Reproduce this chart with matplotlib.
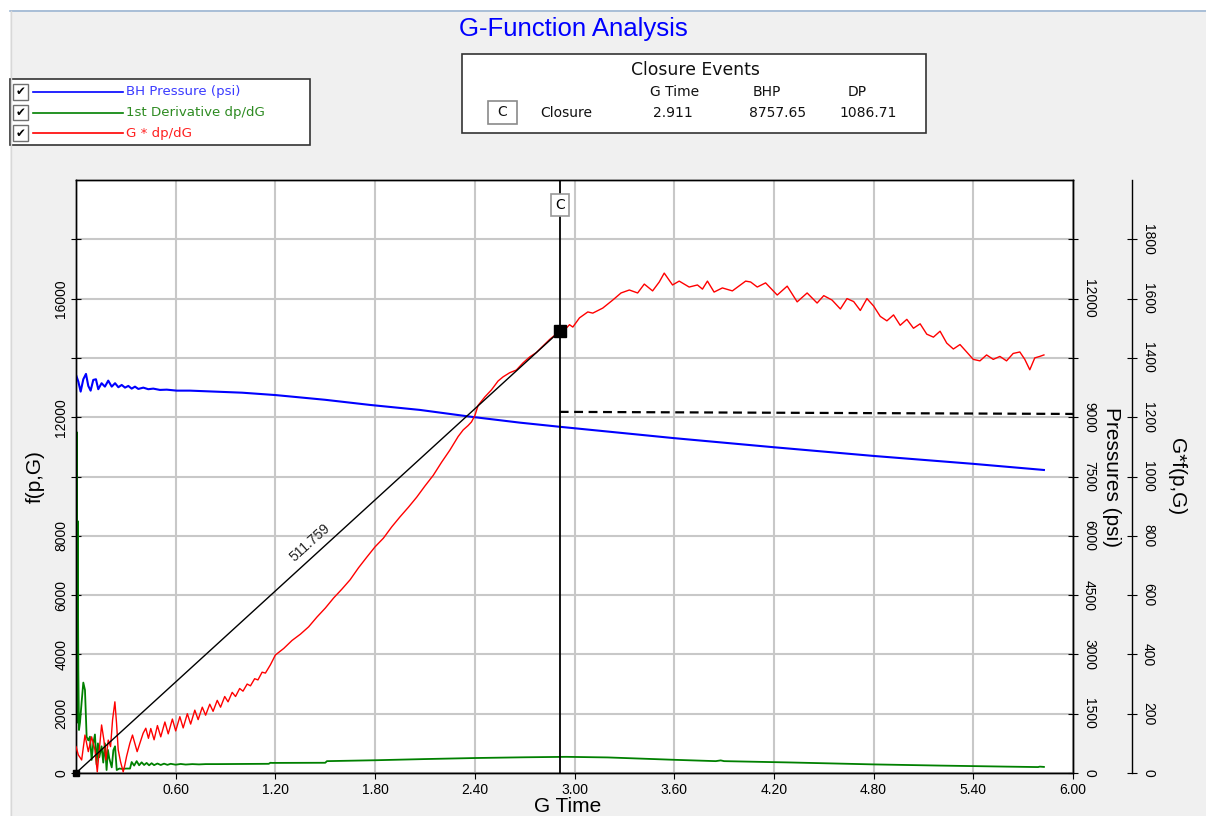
import matplotlib
matplotlib.use('Agg')
import matplotlib.pyplot as plt
from matplotlib.patches import Rectangle
from matplotlib.lines import Line2D

plt.rcParams['font.family'] = ['Liberation Sans', 'DejaVu Sans']

# ---------------- data ----------------
# G * dp/dG  (right outer axis, G*f(p,G))
red_pts = [
    (0.000, 89), (0.014, 61), (0.034, 44), (0.054, 128), (0.074, 72), (0.094, 122),
    (0.114, 78), (0.128, 4), (0.140, 78), (0.154, 162), (0.168, 111), (0.180, 44),
    (0.194, 111), (0.208, 89), (0.220, 179), (0.234, 240), (0.244, 168), (0.254, 78),
    (0.268, 38), (0.284, 4), (0.294, 27), (0.304, 55), (0.324, 100), (0.340, 128),
    (0.354, 100), (0.368, 72), (0.384, 100), (0.404, 134), (0.420, 151), (0.436, 117),
    (0.450, 150), (0.470, 112), (0.490, 160), (0.510, 122), (0.535, 172), (0.555, 132),
    (0.580, 182), (0.600, 142), (0.625, 190), (0.645, 152), (0.670, 200), (0.690, 165),
    (0.715, 212), (0.735, 180), (0.760, 222), (0.780, 195), (0.805, 232), (0.825, 208),
    (0.850, 245), (0.870, 222), (0.895, 258), (0.915, 240), (0.940, 272), (0.960, 258),
    (0.985, 285), (1.005, 276), (1.030, 300), (1.050, 294), (1.075, 318), (1.095, 314),
    (1.120, 340), (1.140, 337), (1.170, 365), (1.200, 398),
    (1.25, 420), (1.30, 447), (1.35, 468), (1.40, 493), (1.45, 526), (1.50, 556),
    (1.55, 590), (1.60, 620), (1.65, 652), (1.70, 692), (1.75, 728), (1.80, 763),
    (1.85, 792), (1.90, 830), (1.95, 864), (2.00, 896), (2.05, 930), (2.10, 968),
    (2.15, 1004), (2.20, 1048), (2.25, 1089), (2.30, 1135), (2.33, 1157), (2.36, 1172),
    (2.38, 1184), (2.40, 1205), (2.42, 1240), (2.46, 1268), (2.50, 1292), (2.54, 1322),
    (2.57, 1336), (2.61, 1350), (2.65, 1359), (2.69, 1383), (2.73, 1403), (2.77, 1418),
    (2.81, 1440), (2.85, 1462), (2.88, 1476), (2.911, 1490),
    (2.95, 1500), (2.97, 1512), (2.99, 1504), (3.03, 1535), (3.08, 1555), (3.11, 1551),
    (3.17, 1568), (3.23, 1595), (3.28, 1619), (3.33, 1629), (3.38, 1619), (3.42, 1649),
    (3.47, 1626), (3.51, 1656), (3.54, 1686), (3.59, 1646), (3.63, 1659), (3.69, 1639),
    (3.74, 1646), (3.77, 1632), (3.80, 1659), (3.84, 1622), (3.89, 1636), (3.95, 1626),
    (4.03, 1659), (4.06, 1656), (4.10, 1639), (4.15, 1653), (4.22, 1612), (4.28, 1642),
    (4.34, 1589), (4.40, 1619), (4.46, 1585),
    (4.50, 1610), (4.55, 1595), (4.60, 1565), (4.64, 1600), (4.68, 1590), (4.72, 1560),
    (4.76, 1600), (4.80, 1575), (4.84, 1540), (4.88, 1525), (4.92, 1545), (4.96, 1510),
    (5.00, 1530), (5.04, 1500), (5.08, 1515), (5.12, 1480), (5.16, 1470), (5.20, 1490),
    (5.24, 1450), (5.28, 1430), (5.32, 1445), (5.36, 1420), (5.40, 1395), (5.44, 1390),
    (5.48, 1410), (5.52, 1395), (5.56, 1405), (5.60, 1390), (5.64, 1415), (5.68, 1420),
    (5.71, 1395), (5.74, 1360), (5.77, 1400), (5.80, 1405), (5.825, 1410),
]

# 1st derivative dp/dG (left axis, f(p,G))
green_pts = [
    (0.000, 200), (0.004, 11500), (0.008, 1700), (0.010, 8500), (0.014, 3470),
    (0.018, 1450), (0.024, 1700), (0.034, 2400), (0.044, 3050), (0.054, 2800),
    (0.064, 1220), (0.074, 1100), (0.084, 1226), (0.094, 440), (0.104, 1000),
    (0.114, 1300), (0.124, 290), (0.132, 1000), (0.140, 530), (0.154, 900),
    (0.164, 350), (0.174, 1000), (0.184, 100), (0.192, 780), (0.200, 500),
    (0.215, 190), (0.225, 770), (0.235, 900), (0.245, 100), (0.261, 150),
    (0.275, 140), (0.300, 150), (0.325, 150), (0.335, 370), (0.350, 250),
    (0.365, 400), (0.380, 260), (0.395, 360), (0.410, 270), (0.425, 340),
    (0.440, 260), (0.455, 330), (0.470, 265), (0.490, 320), (0.510, 270),
    (0.530, 315), (0.550, 275), (0.570, 310), (0.600, 280), (0.630, 305),
    (0.660, 285), (0.700, 300), (0.740, 290), (0.780, 300), (0.850, 300),
    (1.000, 305), (1.160, 310), (1.170, 345), (1.180, 340), (1.500, 345),
    (1.510, 400), (1.800, 430), (2.100, 470), (2.400, 505), (2.700, 530),
    (2.950, 545), (3.200, 525), (3.600, 445), (3.850, 400), (3.880, 425),
    (3.900, 400), (4.300, 355), (4.800, 290), (5.200, 250), (5.600, 215),
    (5.790, 200), (5.800, 215), (5.825, 205),
]

# BH Pressure (psi) (right inner axis, Pressures)
blue_pts = [
    (0.000, 10070), (0.014, 9900), (0.028, 9647), (0.044, 9960), (0.060, 10095),
    (0.074, 9791), (0.088, 9672), (0.104, 9943), (0.120, 9960), (0.134, 9708),
    (0.154, 9860), (0.174, 9773), (0.194, 9925), (0.215, 9773), (0.235, 9860),
    (0.255, 9758), (0.275, 9816), (0.295, 9748), (0.315, 9791), (0.335, 9723),
    (0.355, 9773), (0.375, 9715), (0.405, 9748), (0.435, 9708), (0.465, 9723),
    (0.505, 9690), (0.546, 9697), (0.606, 9672), (0.686, 9672), (1.000, 9620),
    (1.200, 9560), (1.500, 9440), (1.770, 9310), (2.070, 9184), (2.370, 9015),
    (2.670, 8863), (2.911, 8757.65), (3.600, 8470), (4.200, 8240), (4.800, 8020),
    (5.400, 7820), (5.825, 7665),
]

closure_g = 2.911
closure_bhp = 8757.65
closure_dp = 1086.71
tangent_slope = 511.759
tangent_label_pos = (1.41, 776)
dash_pts = [(2.911, 1218), (6.0, 1211)]

x_ticks = [0.6, 1.2, 1.8, 2.4, 3.0, 3.6, 4.2, 4.8, 5.4, 6.0]
x_labels = ['0.60', '1.20', '1.80', '2.40', '3.00', '3.60', '4.20', '4.80', '5.40', '6.00']
left_ticks = [0, 2000, 4000, 6000, 8000, 10000, 12000, 14000, 16000, 18000]
left_labels = ['0', '2000', '4000', '6000', '8000', '', '12000', '', '16000', '']
p_ticks = [0, 1500, 3000, 4500, 6000, 7500, 9000, 10500, 12000, 13500]
p_labels = ['0', '1500', '3000', '4500', '6000', '7500', '9000', '', '12000', '']
gf_ticks = [0, 200, 400, 600, 800, 1000, 1200, 1400, 1600, 1800]
gf_labels = ['0', '200', '400', '600', '800', '1000', '1200', '1400', '1600', '1800']

legend_items = [
    ('BH Pressure (psi)', '#0000ff', '#3b3bff'),
    ('1st Derivative dp/dG', '#008000', '#2e8b22'),
    ('G * dp/dG', '#ff0000', '#ff2020'),
]

# ---------------- figure ----------------
W, H = 1206, 816
fig = plt.figure(figsize=(W / 100, H / 100), dpi=100, facecolor='#f0f0f0')


def rect_px(x0, y0, x1, y1, **kw):
    r = Rectangle((x0 / W, 1 - y1 / H), (x1 - x0) / W, (y1 - y0) / H,
                  transform=fig.transFigure, **kw)
    fig.add_artist(r)
    return r


def text_px(x, y, s, **kw):
    return fig.text(x / W, 1 - y / H, s, **kw)


# white frame strips and panel border
rect_px(0, 0, W, 10, facecolor='white', edgecolor='none')
rect_px(0, 0, 10, H, facecolor='white', edgecolor='none')
fig.add_artist(Line2D([10 / W, 1], [1 - 10.5 / H] * 2, transform=fig.transFigure,
                      color='#9db6d2', lw=1.2))
fig.add_artist(Line2D([10.5 / W] * 2, [0, 1 - 10.5 / H], transform=fig.transFigure,
                      color='#d8d8d8', lw=1.0))

text_px(573, 29, 'G-Function Analysis', color='#0000ff', fontsize=18.5,
        ha='center', va='center')

# legend box
rect_px(10, 79, 310, 145, facecolor='white', edgecolor='#333333', lw=1.2)
for i, (lab, lc, tc) in enumerate(legend_items):
    yc = 92 + 20.5 * i
    rect_px(13, yc - 7.5, 28, yc + 7.5, facecolor='white', edgecolor='#707070', lw=1.0)
    text_px(20.5, yc, '✔', fontsize=8.5, family=['DejaVu Sans'], ha='center',
            va='center', color='black')
    fig.add_artist(Line2D([33 / W, 123 / W], [1 - yc / H] * 2,
                          transform=fig.transFigure, color=lc, lw=1.2))
    text_px(126, yc, lab, color=tc, fontsize=9.6, family=['DejaVu Sans'],
            ha='left', va='center')

# closure events box
rect_px(462, 54, 926, 133, facecolor='white', edgecolor='#333333', lw=1.2)
tf = dict(family=['DejaVu Sans'], color='#111111', va='center')
text_px(695, 70, 'Closure Events', fontsize=12.4, ha='center', **tf)
text_px(675, 92, 'G Time', fontsize=10, ha='center', **tf)
text_px(767, 92, 'BHP', fontsize=10, ha='center', **tf)
text_px(857, 92, 'DP', fontsize=10, ha='center', **tf)
rect_px(488, 101, 517, 124, facecolor='white', edgecolor='#8a8a8a', lw=1.2)
text_px(502.5, 112.5, 'C', fontsize=10, ha='center', **tf)
text_px(540, 113, 'Closure', fontsize=10, ha='left', **tf)
text_px(673, 113, f'{closure_g:.3f}', fontsize=10, ha='center', **tf)
text_px(778, 113, f'{closure_bhp:.2f}', fontsize=10, ha='center', **tf)
text_px(868, 113, f'{closure_dp:.2f}', fontsize=10, ha='center', **tf)

# axes
L, R, T, B = 76, 1073, 180, 773
ax = fig.add_axes([L / W, 1 - B / H, (R - L) / W, (B - T) / H])
ax.set_facecolor('white')
ax2 = ax.twinx()
ax3 = ax.twinx()
ax3.spines['right'].set_position(('outward', 59 * 0.72))
for s in ['left', 'top', 'bottom']:
    ax3.spines[s].set_visible(False)
for a in (ax, ax2, ax3):
    for s in a.spines.values():
        s.set_color('black')
        s.set_linewidth(1.0)

ax.set_xlim(0, 6)
ax.set_ylim(0, 20000)
ax2.set_ylim(0, 15000)
ax3.set_ylim(0, 2000)

ax.set_xticks(x_ticks)
ax.set_xticklabels(x_labels)
ax.set_yticks(left_ticks)
ax.set_yticklabels(left_labels)
ax2.set_yticks(p_ticks)
ax2.set_yticklabels(p_labels)
ax3.set_yticks(gf_ticks)
ax3.set_yticklabels(gf_labels)

ax.grid(True, color='#c8c8c8', lw=1.5)
ax.set_axisbelow(True)
ax.tick_params(axis='x', direction='out', length=4, labelsize=10, pad=3, colors='black')
ax.tick_params(axis='y', direction='inout', length=7, labelsize=10, pad=2,
               labelrotation=90)
for lbl in ax.get_yticklabels():
    lbl.set_va('center')
ax2.tick_params(axis='y', direction='inout', length=7, labelsize=10, pad=3,
                labelrotation=-90)
ax3.tick_params(axis='y', direction='inout', length=7, labelsize=10, pad=3,
                labelrotation=-90)
for a in (ax2, ax3):
    for lbl in a.get_yticklabels():
        lbl.set_va('center')

# series
gx, gy = zip(*green_pts)
ax.plot(gx, gy, color='#008000', lw=1.3)
bx, by = zip(*blue_pts)
ax2.plot(bx, by, color='#0000ff', lw=1.5)
rx, ry = zip(*red_pts)
ax3.plot(rx, ry, color='#ff0000', lw=1.0)

# tangent line, closure marker, dashed level
ax3.plot([0, closure_g], [0, tangent_slope * closure_g], color='black', lw=1.0)
dx, dy = zip(*dash_pts)
ax3.plot(dx, dy, color='black', lw=1.6, ls=(0, (4, 2.5)))
ax3.axvline(closure_g, color='black', lw=1.3)
ax3.plot([closure_g], [tangent_slope * closure_g], 's', color='black', ms=8, zorder=6)
ax3.plot([0], [0], 's', color='black', ms=4.5, clip_on=False, zorder=6)
ax3.text(closure_g, 0.958, 'C', transform=ax3.get_xaxis_transform(), ha='center',
         va='center', fontsize=10, family=['DejaVu Sans'], zorder=7,
         bbox=dict(boxstyle='square,pad=0.3', fc='white', ec='#999999', lw=1.2))
ax3.text(tangent_label_pos[0], tangent_label_pos[1], f'{tangent_slope:.3f}',
         rotation=42, ha='center', va='center', fontsize=10, color='#222222')

# axis titles
text_px(35, 477, 'f(p,G)', fontsize=15, rotation=90, ha='center', va='center')
text_px(568, 806, 'G Time', fontsize=15, ha='center', va='center')
text_px(1112, 477, 'Pressures (psi)', fontsize=15, rotation=-90, ha='center', va='center')
text_px(1176, 477, 'G*f(p,G)', fontsize=15, rotation=-90, ha='center', va='center')

fig.savefig('out.png', dpi=100, facecolor=fig.get_facecolor())
